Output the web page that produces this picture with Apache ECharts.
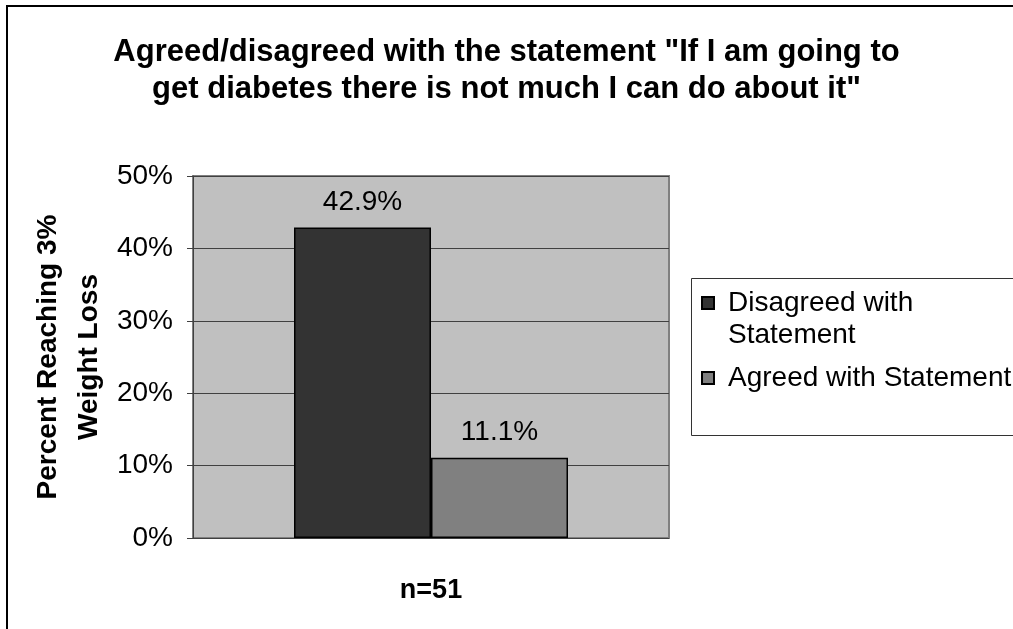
<!DOCTYPE html>
<html>
<head>
<meta charset="utf-8">
<script src="https://cdn.jsdelivr.net/npm/echarts@6/dist/echarts.min.js"></script>
<style>
  html, body { margin: 0; padding: 0; background: #fff; }
  #chart { width: 1013px; height: 629px; }
</style>
</head>
<body>
<div id="chart"></div>
<script>
const categories = ['n=51']
const disagreed = [42.9]
const agreed = [11.1]
const seriesNames = ['Disagreed with Statement', 'Agreed with Statement']
const yTicks = { min: 0, max: 50, interval: 10 }

const chart = echarts.init(document.getElementById('chart'))

const font = 'Arial, "Liberation Sans", sans-serif'

const barLabel = {
  show: true,
  position: 'top',
  distance: 11,
  fontFamily: font,
  fontSize: 28,
  color: '#000',
  formatter: (p) => p.value.toFixed(1) + '%'
}

const options = {
  animation: false,
  backgroundColor: '#fff',
  title: {
    text: 'Agreed/disagreed with the statement "If I am going to\nget diabetes there is not much I can do about it"',
    left: 'center',
    top: 29,
    textStyle: {
      fontFamily: font,
      fontSize: 31,
      fontWeight: 'bold',
      lineHeight: 37,
      color: '#000'
    }
  },
  legend: {
    orient: 'vertical',
    left: 701,
    top: 255,
    padding: 0,
    itemWidth: 12,
    itemHeight: 12,
    itemGap: 11,
    icon: 'rect',
    selectedMode: false,
    textStyle: {
      fontFamily: font,
      fontSize: 28,
      lineHeight: 32,
      color: '#000',
      padding: [0, 0, 0, 9]
    },
    data: seriesNames,
    // first entry wraps onto two lines, kept level with its swatch
    formatter: (name) => (name === seriesNames[0] ? '\nDisagreed with\nStatement' : name)
  },
  grid: {
    left: 193,
    top: 176,
    width: 476,
    height: 362,
    show: true,
    backgroundColor: '#c0c0c0',
    borderColor: '#808080',
    borderWidth: 2
  },
  xAxis: {
    type: 'category',
    data: categories,
    axisLine: { show: false },
    axisTick: { show: false },
    axisLabel: {
      margin: 39,
      fontFamily: font,
      fontSize: 27,
      fontWeight: 'bold',
      color: '#000'
    }
  },
  yAxis: {
    type: 'value',
    min: yTicks.min,
    max: yTicks.max,
    interval: yTicks.interval,
    name: 'Percent Reaching 3%\nWeight Loss',
    nameLocation: 'middle',
    nameGap: 83,
    nameTextStyle: {
      fontFamily: font,
      fontSize: 28,
      fontWeight: 'bold',
      lineHeight: 41,
      color: '#000'
    },
    axisLine: { show: true, lineStyle: { color: '#404040', width: 1 } },
    axisTick: { show: true, length: 6, lineStyle: { color: '#404040' } },
    axisLabel: {
      margin: 20,
      fontFamily: font,
      fontSize: 28,
      color: '#000',
      formatter: '{value}%'
    },
    splitLine: { show: true, lineStyle: { color: '#404040', width: 1 } }
  },
  series: [
    {
      name: seriesNames[0],
      type: 'bar',
      data: disagreed,
      barWidth: 137,
      barGap: '0%',
      itemStyle: { color: '#333333', borderColor: '#000', borderWidth: 1.5 },
      label: barLabel
    },
    {
      name: seriesNames[1],
      type: 'bar',
      data: agreed,
      barWidth: 137,
      itemStyle: { color: '#808080', borderColor: '#000', borderWidth: 1.5 },
      label: barLabel
    }
  ],
  graphic: [
    {
      type: 'rect',
      shape: { x: 7, y: 6, width: 1200, height: 1000 },
      style: { fill: 'none', stroke: '#000', lineWidth: 2 },
      silent: true
    },
    {
      type: 'rect',
      shape: { x: 691.5, y: 278.5, width: 400, height: 157 },
      style: { fill: 'none', stroke: '#333', lineWidth: 1 },
      silent: true
    }
  ]
}

chart.setOption(options)
</script>
</body>
</html>
